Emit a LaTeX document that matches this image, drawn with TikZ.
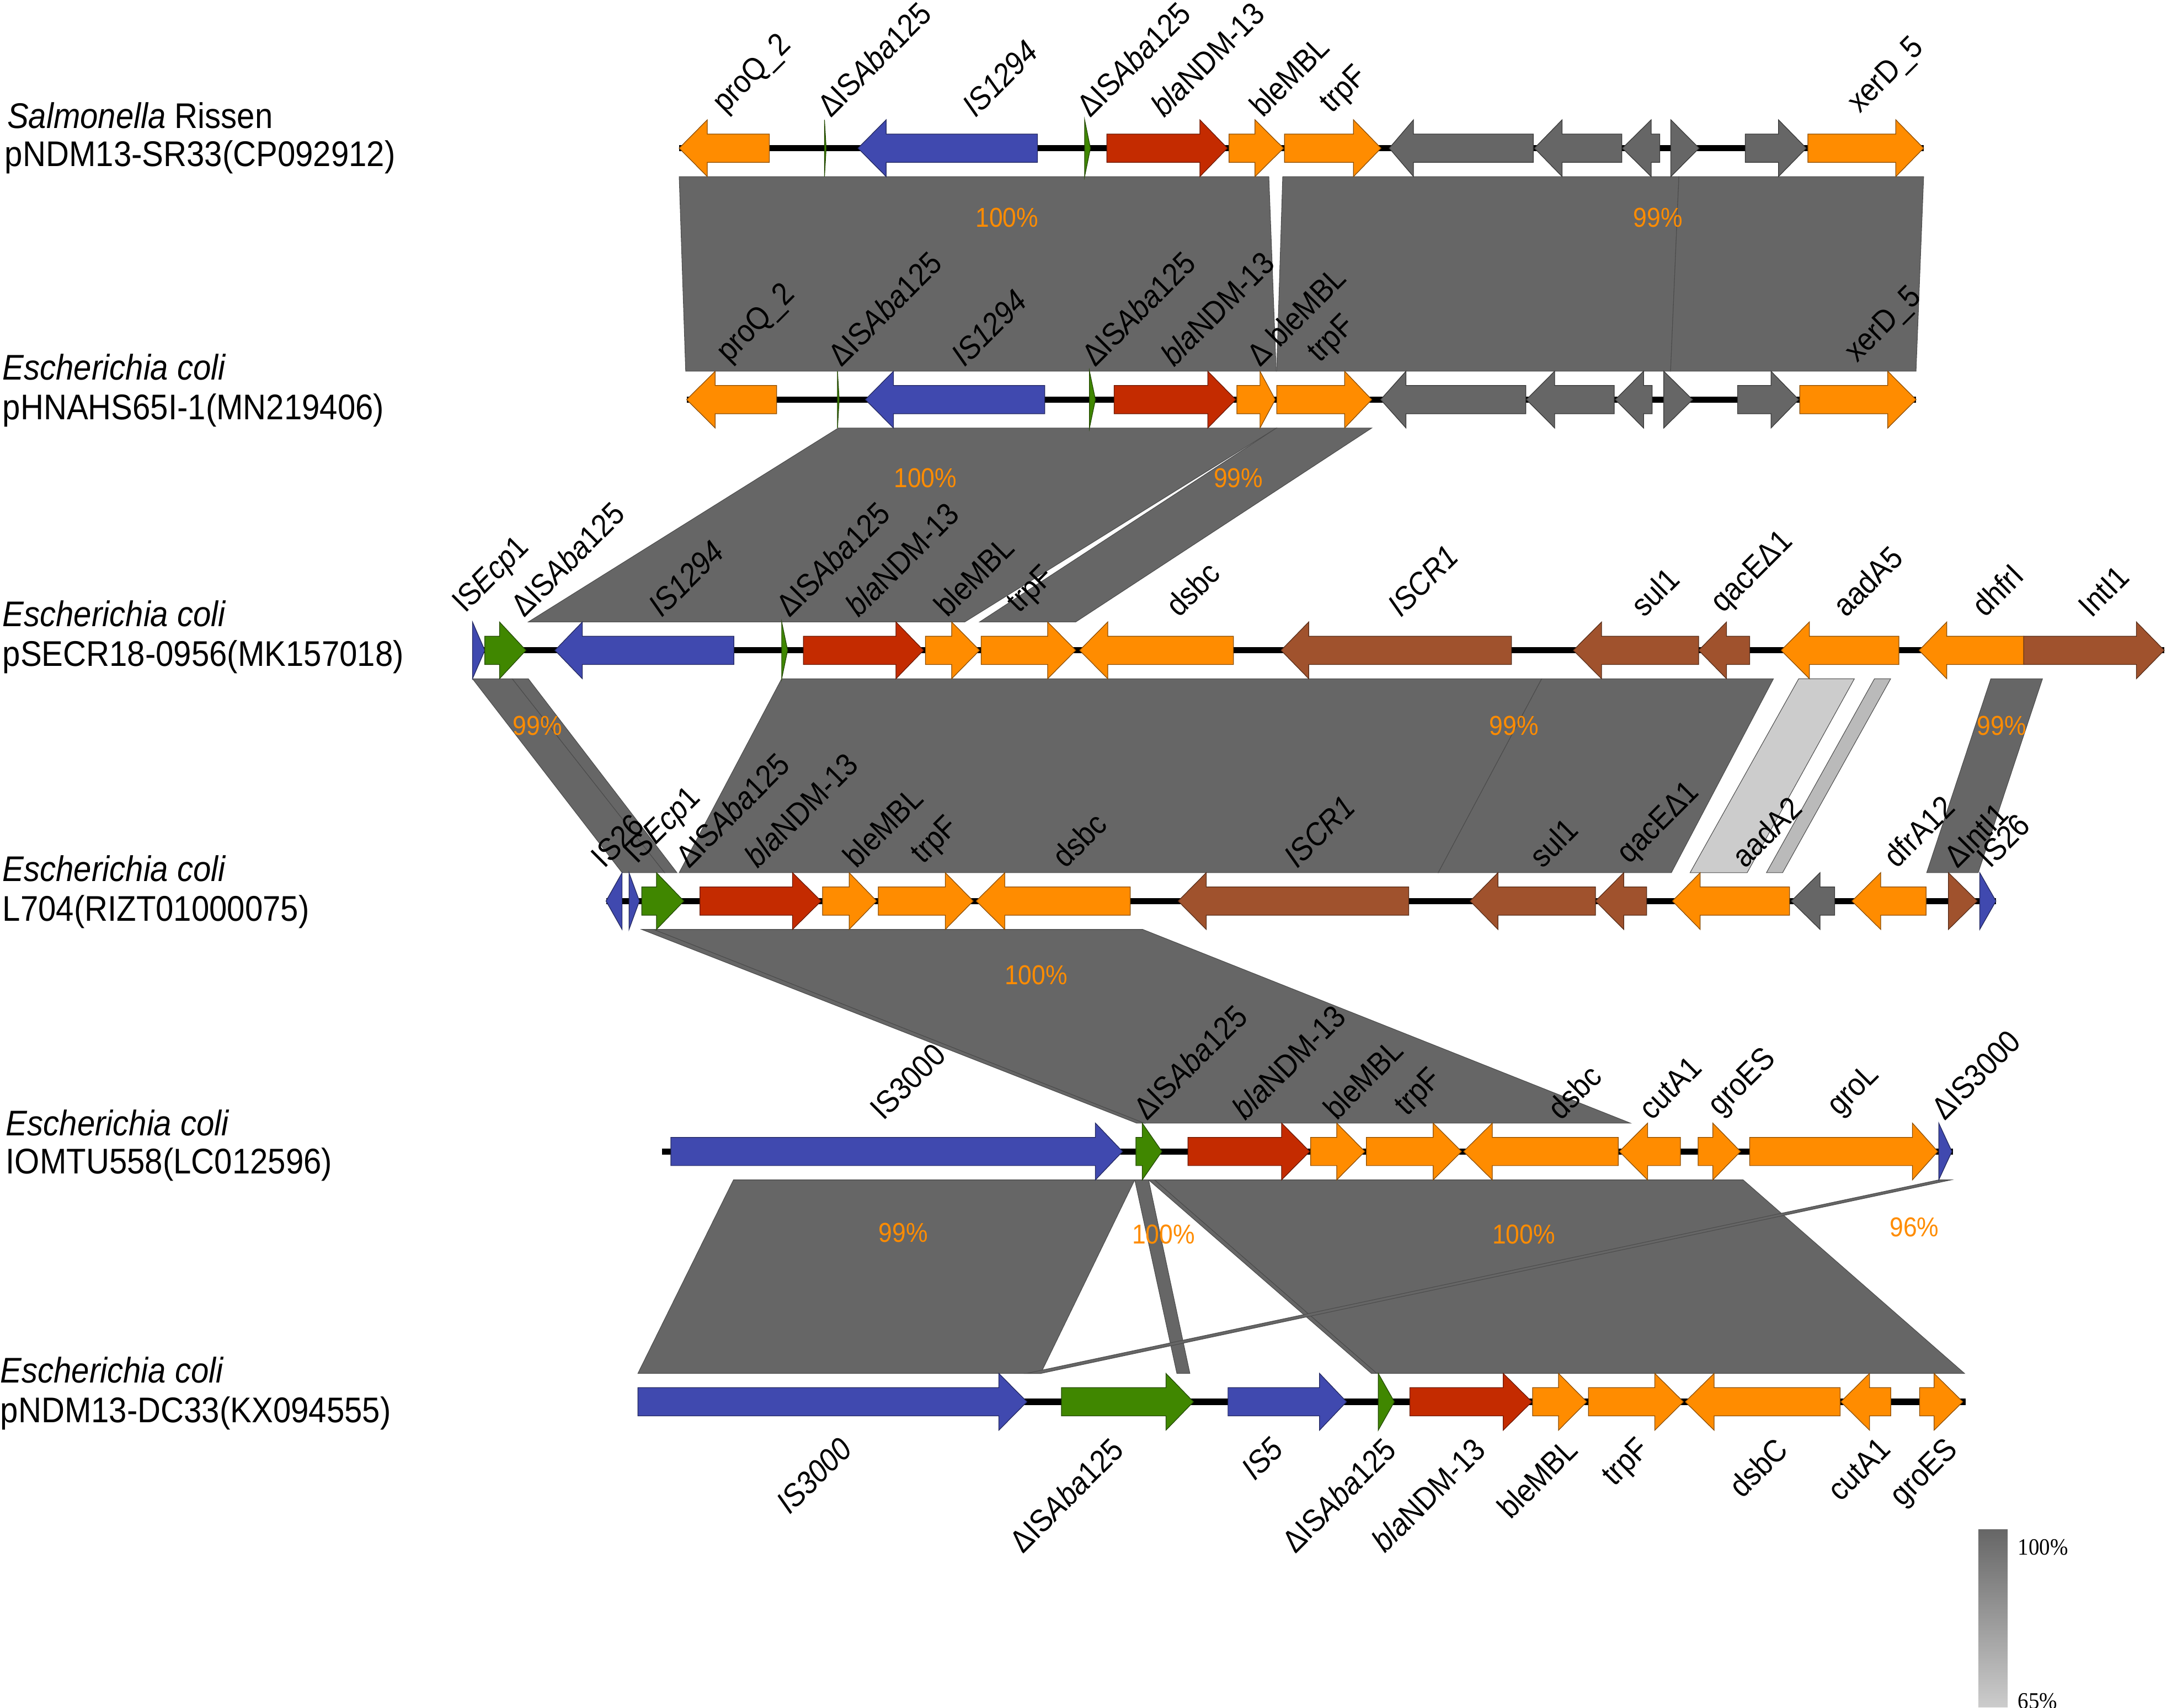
\documentclass[tikz,border=0pt]{standalone}
\usepackage{fontspec}
\setmainfont{Liberation Sans}[FakeStretch=0.9]
\newfontfamily\legendfont{Liberation Serif}[FakeStretch=0.92]

\definecolor{geneorange}{RGB}{255,140,0}
\definecolor{genered}{RGB}{196,43,0}
\definecolor{geneblue}{RGB}{64,73,175}
\definecolor{genegreen}{RGB}{64,135,0}
\definecolor{genebrown}{RGB}{160,82,45}
\definecolor{genegrey}{RGB}{102,102,102}
\definecolor{blockgrey}{RGB}{102,102,102}
\definecolor{blocklight}{RGB}{204,204,204}
\definecolor{blockmid}{RGB}{186,186,186}
\definecolor{pctorange}{RGB}{255,140,0}

\tikzset{
  genebox/.style={line width=0.35pt, line join=miter},
  blockedge/.style={draw=black!70, line width=0.3pt},
  backbone/.style={line width=0.11cm},
  species/.style={anchor=base west, inner sep=0pt, font=\fontsize{18.3}{22}\selectfont},
  glabel/.style={rotate=45, inner sep=0pt, font=\fontsize{16.3}{18}\selectfont},
  pct/.style={text=pctorange, inner sep=0pt, font=\fontsize{14}{16}\selectfont},
  legend/.style={anchor=base west, inner sep=0pt, font=\legendfont\fontsize{12}{14}\selectfont}
}

% gene arrow: colour, row y, start, head base, tip
\newcommand{\gene}[5]{\draw[genebox, fill=#1, draw=#1!55!black]
  (#3,#2-10.2) -- (#4,#2-10.2) -- (#4,#2-20.5) -- (#5,#2) -- (#4,#2+20.5) -- (#4,#2+10.2) -- (#3,#2+10.2) -- cycle;}
% homology block: [fill] top y, top left, top right, bottom y, bottom left, bottom right
\newcommand{\homblock}[7][blockgrey]{\draw[blockedge, fill=#1]
  (#3,#2) -- (#4,#2) -- (#7,#5) -- (#6,#5) -- cycle;}
\newcommand{\isaba}{ΔIS\textit{Aba}125}

\begin{document}
\begin{tikzpicture}[x=0.025cm, y=-0.025cm]
\useasboundingbox (0,0) rectangle (1568,1233);

% homology blocks
\homblock{127.5}{490.3}{916.0}{268}{495.0}{921.3}
\homblock{127.5}{926.0}{1212.0}{268}{921.6}{1206.0}
\homblock{127.5}{1212.0}{1388.7}{268}{1206.0}{1383.2}

\homblock{309}{605.2}{921.5}{449}{381.4}{696.5}
\homblock{309}{921.5}{990.3}{449}{707.2}{776.6}

\homblock{490}{341.1}{369.8}{630}{449.1}{479.8}
\homblock{490}{369.8}{381.4}{630}{479.8}{488.7}
\homblock{490}{564.3}{1113.0}{630}{490.3}{1038.3}
\homblock{490}{1113.0}{1280.3}{630}{1038.3}{1206.6}
\homblock[blocklight]{490}{1298.5}{1338.7}{630}{1220.1}{1261.3}
\homblock[blockmid]{490}{1353.2}{1364.9}{630}{1275.2}{1286.9}
\homblock{490}{1437.2}{1474.5}{630}{1390.9}{1428.1}

\homblock{671}{463.3}{472.0}{810.8}{820.5}{826.0}
\homblock{671}{472.0}{825.0}{810.8}{826.0}{1177.0}

\homblock{851.8}{529.5}{819.2}{991.5}{460.5}{751.3}
\homblock{851.8}{819.2}{829.2}{991.5}{849.6}{859.0}
\homblock{851.8}{829.2}{833.5}{991.5}{990.0}{994.0}
\homblock{851.8}{833.5}{1258.4}{991.5}{994.0}{1418.2}
\homblock{851.8}{1399.6}{1408.5}{991.5}{741.0}{751.5}

% identities
\node[pct] (p12a) at (727,157) {100\%};
\node[pct] (p12b) at (1197,157) {99\%};
\node[pct] (p23a) at (668,345) {100\%};
\node[pct] (p23b) at (894,345) {99\%};
\node[pct] (p34a) at (388,524) {99\%};
\node[pct] (p34b) at (1093,524) {99\%};
\node[pct] (p34c) at (1445,524) {99\%};
\node[pct] (p45a) at (748,704) {100\%};
\node[pct] (p56a) at (652,890) {99\%};
\node[pct] (p56b) at (840,891) {100\%};
\node[pct] (p56c) at (1100,891) {100\%};
\node[pct] (p56d) at (1382,886) {96\%};

% backbones
\draw[backbone] (490.3,107) -- (1388.7,107);
\draw[backbone] (495.7,288.5) -- (1383.2,288.5);
\draw[backbone] (341.1,469.5) -- (1562.4,469.5);
\draw[backbone] (437.5,650.5) -- (1440.9,650.5);
\draw[backbone] (477.8,831.3) -- (1409.9,831.3);
\draw[backbone] (460.5,1012) -- (1419.0,1012);

% row 1
\gene{geneorange}{107}{555.4}{510.6}{490.3}
\gene{genegreen}{107}{595.2}{595.2}{596.4}
\gene{geneblue}{107}{748.9}{639.7}{619.4}
\gene{genegreen}{107}{783.0}{783.0}{787.2}
\gene{genered}{107}{799.0}{866.2}{886.1}
\gene{geneorange}{107}{887.2}{906.0}{926.6}
\gene{geneorange}{107}{927.3}{977.1}{997.0}
\gene{genegrey}{107}{1106.9}{1020.4}{1002.9}
\gene{genegrey}{107}{1170.8}{1127.7}{1107.7}
\gene{genegrey}{107}{1198.2}{1192.0}{1171.2}
\gene{genegrey}{107}{1206.2}{1206.2}{1226.6}
\gene{genegrey}{107}{1259.9}{1283.9}{1304.0}
\gene{geneorange}{107}{1305.1}{1368.6}{1388.7}

% row 2
\gene{geneorange}{288.5}{560.7}{516.3}{495.7}
\gene{genegreen}{288.5}{604.6}{604.6}{605.8}
\gene{geneblue}{288.5}{754.2}{645.0}{624.7}
\gene{genegreen}{288.5}{786.5}{786.5}{790.8}
\gene{genered}{288.5}{804.3}{871.9}{892.1}
\gene{geneorange}{288.5}{892.9}{909.6}{920.6}
\gene{geneorange}{288.5}{921.7}{970.7}{990.3}
\gene{genegrey}{288.5}{1101.5}{1015.0}{996.7}
\gene{genegrey}{288.5}{1165.3}{1122.3}{1101.9}
\gene{genegrey}{288.5}{1192.7}{1186.5}{1166.1}
\gene{genegrey}{288.5}{1201.1}{1201.1}{1221.9}
\gene{genegrey}{288.5}{1254.4}{1278.5}{1298.5}
\gene{geneorange}{288.5}{1299.3}{1362.8}{1383.2}

% row 3
\gene{geneblue}{469.5}{341.1}{341.1}{350.0}
\gene{genegreen}{469.5}{350.0}{360.6}{379.7}
\gene{geneblue}{469.5}{529.8}{420.4}{400.6}
\gene{genegreen}{469.5}{564.3}{564.3}{568.6}
\gene{genered}{469.5}{580.0}{646.8}{666.7}
\gene{geneorange}{469.5}{668.1}{687.0}{707.2}
\gene{geneorange}{469.5}{708.3}{756.3}{776.6}
\gene{geneorange}{469.5}{890.4}{799.7}{779.4}
\gene{genebrown}{469.5}{1091.2}{944.8}{924.8}
\gene{genebrown}{469.5}{1226.3}{1156.2}{1135.8}
\gene{genebrown}{469.5}{1263.1}{1246.4}{1226.3}
\gene{geneorange}{469.5}{1370.8}{1306.2}{1285.8}
\gene{geneorange}{469.5}{1460.9}{1405.4}{1385.4}
\gene{genebrown}{469.5}{1460.9}{1542.3}{1562.4}

% row 4
\gene{geneblue}{650.5}{449.1}{449.1}{437.5}
\gene{geneblue}{650.5}{454.1}{454.1}{461.6}
\gene{genegreen}{650.5}{463.3}{473.9}{493.7}
\gene{genered}{650.5}{505.3}{572.1}{592.8}
\gene{geneorange}{650.5}{593.8}{613.0}{632.9}
\gene{geneorange}{650.5}{634.0}{682.4}{702.6}
\gene{geneorange}{650.5}{816.0}{725.4}{704.7}
\gene{genebrown}{650.5}{1017.0}{870.8}{850.5}
\gene{genebrown}{650.5}{1151.8}{1081.4}{1061.3}
\gene{genebrown}{650.5}{1188.7}{1172.2}{1151.8}
\gene{geneorange}{650.5}{1291.9}{1227.4}{1207.3}
\gene{genegrey}{650.5}{1324.4}{1313.9}{1293.1}
\gene{geneorange}{650.5}{1390.5}{1357.7}{1336.9}
\gene{genebrown}{650.5}{1406.6}{1406.6}{1427.4}
\gene{geneblue}{650.5}{1429.2}{1429.2}{1440.9}

% row 5
\gene{geneblue}{831.3}{484.3}{790.8}{810.4}
\gene{genegreen}{831.3}{820.0}{824.6}{838.8}
\gene{genered}{831.3}{857.6}{925.2}{945.5}
\gene{geneorange}{831.3}{946.2}{965.0}{985.3}
\gene{geneorange}{831.3}{986.4}{1034.6}{1055.1}
\gene{geneorange}{831.3}{1168.2}{1077.3}{1056.6}
\gene{geneorange}{831.3}{1213.1}{1189.4}{1169.0}
\gene{geneorange}{831.3}{1225.9}{1236.5}{1256.5}
\gene{geneorange}{831.3}{1263.1}{1380.6}{1398.9}
\gene{geneblue}{831.3}{1399.6}{1399.6}{1409.1}

% row 6
\gene{geneblue}{1012}{460.5}{721.1}{741.4}
\gene{genegreen}{1012}{766.3}{841.7}{861.6}
\gene{geneblue}{1012}{886.5}{952.6}{972.1}
\gene{genegreen}{1012}{995.0}{995.0}{1006.6}
\gene{genered}{1012}{1017.8}{1085.2}{1105.9}
\gene{geneorange}{1012}{1106.4}{1125.1}{1145.5}
\gene{geneorange}{1012}{1146.7}{1194.6}{1215.3}
\gene{geneorange}{1012}{1328.4}{1237.4}{1216.6}
\gene{geneorange}{1012}{1365.0}{1349.6}{1328.9}
\gene{geneorange}{1012}{1385.8}{1396.2}{1417.0}

% strain names
\node[species] (sp1) at (4.9,92.5) {\textit{Salmonella} Rissen};
\node[species] (pl1) at (3.3,119.9) {pNDM13-SR33(CP092912)};
\node[species] (sp2) at (1.6,274.3) {\textit{Escherichia coli}};
\node[species] (pl2) at (1.6,302.7) {pHNAHS65I-1(MN219406)};
\node[species] (sp3) at (1.6,452.3) {\textit{Escherichia coli}};
\node[species] (pl3) at (1.6,480.9) {pSECR18-0956(MK157018)};
\node[species] (sp4) at (1.6,636.4) {\textit{Escherichia coli}};
\node[species] (pl4) at (1.6,665.0) {L704(RIZT01000075)};
\node[species] (sp5) at (4.0,819.9) {\textit{Escherichia coli}};
\node[species] (pl5) at (4.0,847.4) {IOMTU558(LC012596)};
\node[species] (sp6) at (0.0,998.2) {\textit{Escherichia coli}};
\node[species] (pl6) at (0.0,1026.8) {pNDM13-DC33(KX094555)};

% gene names, row 1
\node[glabel, anchor=south west] (r1proQ) at (526.7,86) {proQ\_2};
\node[glabel, anchor=south west] (r1isaA) at (600.0,86) {\isaba};
\node[glabel, anchor=south west] (r1is1294) at (704.5,86) {\textit{IS1294}};
\node[glabel, anchor=south west] (r1isaB) at (787.4,86) {\isaba};
\node[glabel, anchor=south west] (r1ndm) at (840.7,86) {\textit{bla}NDM-13};
\node[glabel, anchor=south west] (r1ble) at (911.8,86) {bleMBL};
\node[glabel, anchor=south west] (r1trpF) at (965.1,86) {trpF};
\node[glabel, anchor=south west] (r1xerD) at (1345.9,86) {xerD\_5};

% row 2
\node[glabel, anchor=south west] (r2proQ) at (529.5,266) {proQ\_2};
\node[glabel, anchor=south west] (r2isaA) at (607.8,266) {\isaba};
\node[glabel, anchor=south west] (r2is1294) at (696.7,266) {\textit{IS1294}};
\node[glabel, anchor=south west] (r2isaB) at (790.9,266) {\isaba};
\node[glabel, anchor=south west] (r2ndm) at (847.8,266) {\textit{bla}NDM-13};
\node[glabel, anchor=south west] (r2ble) at (910.0,266) {Δ bleMBL};
\node[glabel, anchor=south west] (r2trpF) at (956.2,266) {trpF};
\node[glabel, anchor=south west] (r2xerD) at (1344.0,266) {xerD\_5};

% row 3
\node[glabel, anchor=south west] (r3isecp) at (339.2,447) {IS\textit{Ecp}1};
\node[glabel, anchor=south west] (r3isaA) at (378.8,447) {\isaba};
\node[glabel, anchor=south west] (r3is1294) at (477.9,447) {\textit{IS1294}};
\node[glabel, anchor=south west] (r3isaB) at (570.4,447) {\isaba};
\node[glabel, anchor=south west] (r3ndm) at (620.2,447) {\textit{bla}NDM-13};
\node[glabel, anchor=south west] (r3ble) at (684.2,447) {bleMBL};
\node[glabel, anchor=south west] (r3trpF) at (739.3,447) {trpF};
\node[glabel, anchor=south west] (r3dsbc) at (851.4,447) {dsbc};
\node[glabel, anchor=south west] (r3iscr) at (1011.4,447) {\textit{ISCR1}};
\node[glabel, anchor=south west] (r3sul) at (1187.1,447) {sul1};
\node[glabel, anchor=south west] (r3qac) at (1247.3,447) {qacEΔ1};
\node[glabel, anchor=south west] (r3aadA) at (1333.1,447) {aadA5};
\node[glabel, anchor=south west] (r3dhfr) at (1433.4,447) {dhfrI};
\node[glabel, anchor=south west] (r3intI) at (1510.1,447) {IntI1};

% row 4
\node[glabel, anchor=south west] (r4is26a) at (436.6,628) {IS26};
\node[glabel, anchor=south west] (r4isecp) at (463.0,628) {IS\textit{Ecp}1};
\node[glabel, anchor=south west] (r4isa) at (497.7,628) {\isaba};
\node[glabel, anchor=south west] (r4ndm) at (547.3,628) {\textit{bla}NDM-13};
\node[glabel, anchor=south west] (r4ble) at (618.5,628) {bleMBL};
\node[glabel, anchor=south west] (r4trpF) at (670.0,628) {trpF};
\node[glabel, anchor=south west] (r4dsbc) at (769.6,628) {dsbc};
\node[glabel, anchor=south west] (r4iscr) at (936.7,628) {\textit{ISCR1}};
\node[glabel, anchor=south west] (r4sul) at (1114.1,628) {sul1};
\node[glabel, anchor=south west] (r4qac) at (1179.8,628) {qacEΔ1};
\node[glabel, anchor=south west] (r4aadA) at (1260.1,628) {aadA2};
\node[glabel, anchor=south west] (r4dfr) at (1369.6,628) {dfrA12};
\node[glabel, anchor=south west] (r4intI) at (1413.4,628) {ΔIntI1};
\node[glabel, anchor=south west] (r4is26b) at (1437.1,628) {IS26};

% row 5
\node[glabel, anchor=south west] (r5is3000) at (638.0,810) {IS3000};
\node[glabel, anchor=south west] (r5isa) at (828.2,810) {\isaba};
\node[glabel, anchor=south west] (r5ndm) at (899.4,810) {\textit{bla}NDM-13};
\node[glabel, anchor=south west] (r5ble) at (965.2,810) {bleMBL};
\node[glabel, anchor=south west] (r5trpF) at (1019.0,810) {trpF};
\node[glabel, anchor=south west] (r5dsbc) at (1126.9,810) {dsbc};
\node[glabel, anchor=south west] (r5cut) at (1192.6,810) {cutA1};
\node[glabel, anchor=south west] (r5groES) at (1245.5,810) {groES};
\node[glabel, anchor=south west] (r5groL) at (1331.3,810) {groL};
\node[glabel, anchor=south west] (r5dis3000) at (1404.3,810) {ΔIS3000};

% row 6, names below the row
\node[glabel, anchor=north east] (r6is3000) at (605.1,1036) {\textit{IS3000}};
\node[glabel, anchor=north east] (r6isaA) at (800.7,1036) {\isaba};
\node[glabel, anchor=north east] (r6is5) at (916.3,1036) {\textit{IS5}};
\node[glabel, anchor=north east] (r6isaB) at (997.4,1036) {\isaba};
\node[glabel, anchor=north east] (r6ndm) at (1061.9,1036) {\textit{bla}NDM-13};
\node[glabel, anchor=north east] (r6ble) at (1128.4,1036) {bleMBL};
\node[glabel, anchor=north east] (r6trpF) at (1180.4,1036) {trpF};
\node[glabel, anchor=north east] (r6dsbC) at (1280.2,1036) {dsbC};
\node[glabel, anchor=north east] (r6cut) at (1355.0,1036) {cutA1};
\node[glabel, anchor=north east] (r6groES) at (1402.8,1036) {groES};

% identity scale
\shade[top color=blockgrey, bottom color=blocklight] (1428.2,1104.1) rectangle (1449.4,1232.3);
\node[legend] (leg100) at (1456.5,1122.5) {100\%};
\node[legend] (leg65) at (1456.5,1233.5) {65\%};

\end{tikzpicture}
\end{document}
